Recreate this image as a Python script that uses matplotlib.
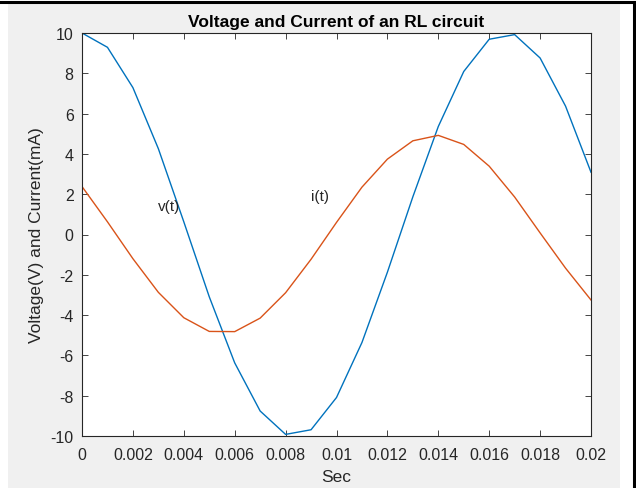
import numpy as np
import matplotlib.pyplot as plt
from matplotlib.patches import Rectangle
from matplotlib.lines import Line2D

# tiempo (s) y muestras
t = [0.000, 0.001, 0.002, 0.003, 0.004, 0.005, 0.006, 0.007, 0.008, 0.009, 0.010,
     0.011, 0.012, 0.013, 0.014, 0.015, 0.016, 0.017, 0.018, 0.019, 0.020]
v = [10.0, 9.29, 7.29, 4.26, 0.63, -3.09, -6.37, -8.76, -9.92, -9.69, -8.09,
     -5.36, -1.87, 1.87, 5.36, 8.09, 9.69, 9.92, 8.76, 6.37, 3.09]
i = [2.38, 0.63, -1.20, -2.87, -4.13, -4.81, -4.82, -4.15, -2.89, -1.23, 0.60,
     2.35, 3.74, 4.65, 4.92, 4.47, 3.39, 1.86, 0.08, -1.67, -3.25]

xticks = [0, 0.002, 0.004, 0.006, 0.008, 0.01, 0.012, 0.014, 0.016, 0.018, 0.02]
xtick_labels = ['0', '0.002', '0.004', '0.006', '0.008', '0.01', '0.012', '0.014', '0.016', '0.018', '0.02']
yticks = [-10, -8, -6, -4, -2, 0, 2, 4, 6, 8, 10]

plt.rcParams['font.family'] = ['Liberation Sans', 'DejaVu Sans']
plt.rcParams['axes.unicode_minus'] = False

W, H = 636, 489
fig = plt.figure(figsize=(W / 100, H / 100), dpi=100)
fig.patch.set_facecolor('white')

# fondo gris estilo MATLAB y marco negro
fig.patches.append(Rectangle((8 / W, 0), 612 / W, 1 - 4 / H, transform=fig.transFigure,
                             facecolor='#f0f0f0', edgecolor='none', zorder=-10))
fig.lines.append(Line2D([0, 1], [1 - 3 / H, 1 - 3 / H], transform=fig.transFigure,
                        color='black', lw=2.2))
fig.lines.append(Line2D([634 / W, 634 / W], [0, 1 - 3 / H], transform=fig.transFigure,
                        color='black', lw=2.2))

ax = fig.add_axes([82 / W, (H - 437) / H, 509 / W, 403 / H])
ax.set_facecolor('white')

ax.plot(t, v, color=(0, 0.447, 0.741), lw=1.0)
ax.plot(t, i, color=(0.85, 0.325, 0.098), lw=1.0)
ax.text(0.003, 1.4, 'v(t)', fontsize=11, va='center', ha='left', color='#262626')
ax.text(0.009, 1.9, 'i(t)', fontsize=11, va='center', ha='left', color='#262626')

ax.set_xlim(0, 0.02)
ax.set_ylim(-10, 10)
ax.set_xticks(xticks)
ax.set_xticklabels(xtick_labels)
ax.set_yticks(yticks)
ax.tick_params(direction='in', length=4, width=0.6, colors='#262626', labelsize=11.5,
               top=True, right=True, labeltop=False, labelright=False)
ax.tick_params(axis='x', pad=8)
ax.tick_params(axis='y', pad=6)
for s in ax.spines.values():
    s.set_color('#262626')
    s.set_linewidth(0.8)

ax.set_title('Voltage and Current of an RL circuit', fontsize=12.5, fontweight='bold',
             color='black', pad=5)
ax.set_xlabel('Sec', fontsize=12.5, color='#262626', labelpad=5)
ax.set_ylabel('Voltage(V) and Current(mA)', fontsize=12.5, color='#262626', labelpad=5)

fig.savefig('out.png', dpi=100)
